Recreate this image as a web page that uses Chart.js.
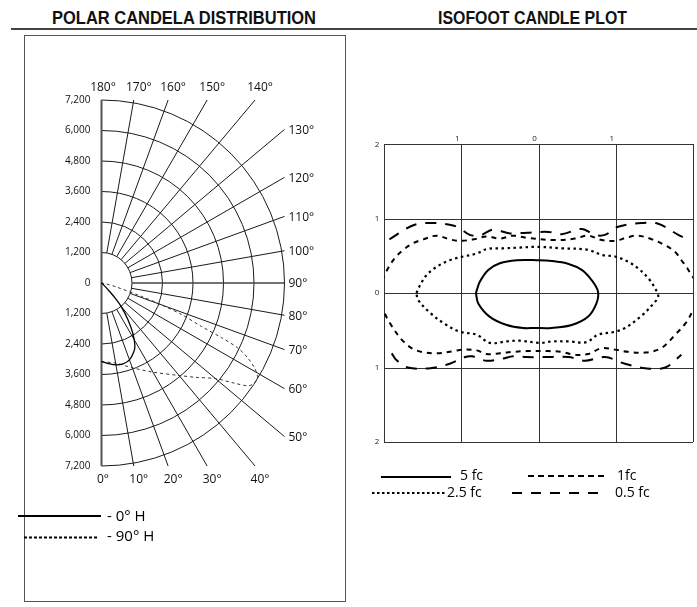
<!DOCTYPE html>
<html>
<head>
<meta charset="utf-8">
<script src="https://cdn.jsdelivr.net/npm/chart.js@4.4.0/dist/chart.umd.min.js"></script>
<style>
  body { margin: 0; background: #fff; width: 697px; height: 607px; overflow: hidden; position: relative; }
  .title { position: absolute; top: 8px; font: bold 19px/19px "Liberation Sans", Arial, sans-serif; white-space: nowrap; color: #111; transform-origin: left top; }
  #rule { position: absolute; left: 11px; width: 686px; top: 28px; height: 2px; background: #444; }
  #polar { position: absolute; left: 0; top: 30px; }
  #iso { position: absolute; left: 350px; top: 120px; }
</style>
</head>
<body>
<div class="title" id="t1" data-center="184" data-width="264">POLAR CANDELA DISTRIBUTION</div>
<div class="title" id="t2" data-center="532" data-width="189">ISOFOOT CANDLE PLOT</div>
<div id="rule"></div>
<canvas id="polar" width="350" height="577"></canvas>
<canvas id="iso" width="347" height="400"></canvas>
<script>
// polar candela distribution
const ringValues = [1200, 2400, 3600, 4800, 6000, 7200];
const candelaTicks = [7200, 6000, 4800, 3600, 2400, 1200, 0, 1200, 2400, 3600, 4800, 6000, 7200];
const angleTicks = [0, 10, 20, 30, 40, 50, 60, 70, 80, 90, 100, 110, 120, 130, 140, 150, 160, 170, 180];

const angles0H = [0, 5, 10, 15, 20, 25, 28, 32, 36, 40, 42, 44, 46, 50];
const candela0H = [3080, 3180, 3270, 3290, 3220, 3000, 2800, 2320, 1750, 1200, 850, 450, 150, 0];

const angles90H = [0, 10, 20, 30, 40, 45, 50, 53, 55, 57, 59, 61, 63, 64.5, 65.5, 66.5, 68.5, 70, 71.5, 75, 80, 90];
const candela90H = [3100, 3200, 3550, 4050, 4750, 5250, 5850, 6550, 7050, 7200, 7160, 6880, 6430, 5950, 5200, 4300, 3400, 2500, 1650, 600, 150, 0];

// isofoot candle plot
const gridTicks = [-2, -1, 0, 1, 2];

const fc5U = [-0.81, -0.76, -0.65, -0.50, -0.28, -0.02, 0.17, 0.39, 0.56, 0.69, 0.77, 0.75, 0.64, 0.43, 0.17, -0.05, -0.20, -0.41, -0.63, -0.78, -0.81];
const fc5V = [0.00, 0.15, 0.31, 0.40, 0.44, 0.44, 0.43, 0.39, 0.31, 0.17, 0.02, -0.14, -0.32, -0.43, -0.47, -0.47, -0.47, -0.43, -0.32, -0.14, 0.00];

const fc25U = [-1.58, -1.53, -1.45, -1.32, -1.15, -0.97, -0.80, -0.67, -0.46, -0.24, -0.02, 0.30, 0.64, 0.82, 0.99, 1.16, 1.29, 1.42, 1.51, 1.55, 1.49, 1.34, 1.12, 0.99, 0.77, 0.62, 0.39, 0.17, 0.02, -0.24, -0.41, -0.63, -0.80, -1.02, -1.19, -1.40, -1.56, -1.58];
const fc25V = [0.00, 0.11, 0.24, 0.35, 0.44, 0.49, 0.53, 0.59, 0.60, 0.61, 0.62, 0.60, 0.58, 0.51, 0.49, 0.42, 0.33, 0.20, 0.06, -0.05, -0.14, -0.30, -0.47, -0.52, -0.56, -0.66, -0.65, -0.65, -0.67, -0.64, -0.65, -0.67, -0.56, -0.52, -0.43, -0.27, -0.09, 0.00];

const fc1U = [-2.08, -1.97, -1.86, -1.75, -1.62, -1.49, -1.32, -1.15, -1.02, -0.84, -0.67, -0.50, -0.33, -0.15, 0.21, 0.47, 0.64, 0.82, 0.99, 1.16, 1.29, 1.47, 1.64, 1.77, 1.85, 1.94, 2.08, 1.98, 1.90, 1.77, 1.59, 1.38, 1.16, 0.99, 0.82, 0.64, 0.47, 0.30, 0.13, -0.15, -0.33, -0.50, -0.67, -0.80, -0.97, -1.10, -1.32, -1.58, -1.75, -1.92, -1.99, -2.08];
const fc1V = [0.05, 0.29, 0.47, 0.58, 0.67, 0.72, 0.77, 0.72, 0.70, 0.72, 0.76, 0.73, 0.77, 0.74, 0.71, 0.73, 0.77, 0.71, 0.70, 0.75, 0.77, 0.72, 0.64, 0.55, 0.44, 0.31, 0.02, -0.27, -0.41, -0.56, -0.74, -0.80, -0.79, -0.76, -0.74, -0.82, -0.83, -0.79, -0.78, -0.78, -0.79, -0.81, -0.82, -0.77, -0.76, -0.78, -0.81, -0.77, -0.65, -0.41, -0.27, 0.05];

const fc05TopU = [-1.93, -1.62, -1.36, -1.12, -1.02, -0.89, -0.76, -0.59, -0.37, -0.15, 0.13, 0.30, 0.56, 0.73, 0.86, 1.03, 1.34, 1.55, 1.81, 1.87];
const fc05TopV = [0.72, 0.91, 0.94, 0.91, 0.87, 0.78, 0.77, 0.85, 0.80, 0.81, 0.82, 0.79, 0.86, 0.78, 0.78, 0.89, 0.94, 0.93, 0.78, 0.75];
const fc05BotU = [-1.90, -1.84, -1.69, -1.40, -1.15, -0.95, -0.86, -0.67, -0.46, -0.33, -0.15, 0.08, 0.39, 0.60, 0.86, 1.12, 1.38, 1.64, 1.85];
const fc05BotV = [-0.81, -0.90, -1.00, -1.01, -0.95, -0.86, -0.85, -0.91, -0.88, -0.85, -0.86, -0.86, -0.86, -0.91, -0.86, -0.95, -1.01, -1.00, -0.83];

// fit the condensed titles to their width
document.querySelectorAll('.title').forEach(el => {
  const w = el.getBoundingClientRect().width;
  const target = +el.dataset.width;
  el.style.transform = 'scaleX(' + (target / w) + ')';
  el.style.left = (+el.dataset.center - target / 2) + 'px';
});

const LABEL_FONT = '"Open Sans", "Noto Sans", sans-serif';

function toXY(angles, values) {
  return angles.map((a, i) => {
    const t = a * Math.PI / 180;
    return { x: values[i] * Math.sin(t), y: -values[i] * Math.cos(t) };
  });
}

function pairs(us, vs) {
  return us.map((u, i) => ({ x: u, y: vs[i] }));
}

function legendLine(ctx, x1, x2, y, width, dash) {
  ctx.save();
  ctx.strokeStyle = '#000';
  ctx.lineWidth = width;
  ctx.setLineDash(dash);
  ctx.beginPath();
  ctx.moveTo(x1, y);
  ctx.lineTo(x2, y);
  ctx.stroke();
  ctx.restore();
}

const polarGrid = {
  id: 'polarGrid',
  beforeDatasetsDraw(chart) {
    const { ctx, scales: { x, y } } = chart;
    const cx = x.getPixelForValue(0), cy = y.getPixelForValue(0);
    const rad = v => x.getPixelForValue(v) - cx;
    const R = rad(ringValues[ringValues.length - 1]);
    const r0 = rad(ringValues[0]);
    ctx.save();

    // frame around the polar panel
    ctx.strokeStyle = '#555';
    ctx.lineWidth = 1;
    ctx.strokeRect(24.5, 5.5, 321, 566);

    ctx.strokeStyle = '#1a1a1a';
    ctx.lineWidth = 1;
    ringValues.forEach(v => {
      ctx.beginPath();
      ctx.arc(cx, cy, rad(v), -Math.PI / 2, Math.PI / 2);
      ctx.stroke();
    });

    ctx.font = '12px ' + LABEL_FONT;
    ctx.fillStyle = '#111';
    angleTicks.forEach(a => {
      const t = a * Math.PI / 180, dx = Math.sin(t), dy = Math.cos(t);
      let len = Infinity;
      if (dx > 1e-6) len = Math.min(len, R / dx);
      if (Math.abs(dy) > 1e-6) len = Math.min(len, R / Math.abs(dy));
      const ex = cx + dx * len, ey = cy + dy * len;
      if (a !== 0 && a !== 180) {
        ctx.lineWidth = a === 90 ? 1.6 : 1;
        ctx.strokeStyle = a === 90 ? '#444' : '#1a1a1a';
        ctx.beginPath();
        ctx.moveTo(cx + dx * r0, cy + dy * r0);
        ctx.lineTo(ex, ey);
        ctx.stroke();
      }
      const off = (a === 0 || a === 180) ? 1.5 : 5;
      if (a >= 140) {
        ctx.textAlign = 'center'; ctx.textBaseline = 'middle';
        ctx.fillText(a + '°', ex + off, cy - R - 12);
      } else if (a >= 50) {
        ctx.textAlign = 'left'; ctx.textBaseline = 'middle';
        ctx.fillText(a + '°', cx + R + 4, ey + 1);
      } else {
        ctx.textAlign = 'center'; ctx.textBaseline = 'middle';
        ctx.fillText(a + '°', ex + off, cy + R + 14);
      }
    });

    // vertical axis
    ctx.strokeStyle = '#555';
    ctx.lineWidth = 2;
    ctx.beginPath();
    ctx.moveTo(cx, cy - R);
    ctx.lineTo(cx, cy + R);
    ctx.stroke();

    // candela values
    ctx.font = '10px ' + LABEL_FONT;
    ctx.textAlign = 'right';
    ctx.textBaseline = 'middle';
    candelaTicks.forEach((v, i) => {
      const sign = i < 6 ? -1 : 1;
      ctx.fillText(v.toLocaleString('en-US'), cx - 11, cy + sign * rad(v));
    });
    ctx.restore();
  },
  afterDraw(chart) {
    const ctx = chart.ctx;
    legendLine(ctx, 18, 101, 486, 2, []);
    legendLine(ctx, 24, 98, 507.5, 2, [3, 2]);
    ctx.save();
    ctx.font = '15px ' + LABEL_FONT;
    ctx.fillStyle = '#000';
    ctx.textAlign = 'left';
    ctx.textBaseline = 'middle';
    ctx.fillText('- 0° H', 107, 486.5);
    ctx.fillText('- 90° H', 107, 506.5);
    ctx.restore();
  }
};

new Chart(document.getElementById('polar'), {
  type: 'scatter',
  data: {
    datasets: [
      { label: '0° H', data: toXY(angles0H, candela0H), showLine: true, borderColor: '#000', borderWidth: 1.3, pointRadius: 0, tension: 0.3, clip: false },
      { label: '90° H', data: toXY(angles90H, candela90H), showLine: true, borderColor: '#333', borderWidth: 1, borderDash: [3, 3], pointRadius: 0, tension: 0.3, clip: false }
    ]
  },
  options: {
    responsive: false,
    animation: false,
    events: [],
    layout: { padding: { left: 101.5, right: 65.5, top: 70, bottom: 141 } },
    plugins: { legend: { display: false }, tooltip: { enabled: false } },
    scales: {
      x: { type: 'linear', min: 0, max: 7200, display: false },
      y: { type: 'linear', min: -7200, max: 7200, display: false }
    }
  },
  plugins: [polarGrid]
});

const isoGrid = {
  id: 'isoGrid',
  beforeDatasetsDraw(chart) {
    const { ctx, scales: { x, y }, chartArea: ca } = chart;
    ctx.save();
    ctx.strokeStyle = '#333';
    ctx.lineWidth = 1;
    gridTicks.forEach(v => {
      const px = Math.round(x.getPixelForValue(v)) + 0.5;
      ctx.beginPath(); ctx.moveTo(px, ca.top); ctx.lineTo(px, ca.bottom); ctx.stroke();
      const py = Math.round(y.getPixelForValue(v)) + 0.5;
      ctx.beginPath(); ctx.moveTo(ca.left, py); ctx.lineTo(ca.right, py); ctx.stroke();
    });
    ctx.font = '8px ' + LABEL_FONT;
    ctx.fillStyle = '#222';
    ctx.textBaseline = 'middle';
    ctx.textAlign = 'center';
    gridTicks.filter(v => Math.abs(v) < 2).forEach(v => {
      ctx.fillText(String(Math.abs(v)), x.getPixelForValue(v) - 4, ca.top - 5);
    });
    gridTicks.forEach(v => {
      ctx.fillText(String(Math.abs(v)), ca.left - 7, y.getPixelForValue(v) + (v === 2 ? 1 : 0));
    });
    ctx.restore();
  },
  afterDraw(chart) {
    const ctx = chart.ctx;
    // page coords minus canvas offset (350, 120)
    legendLine(ctx, 31, 101, 357, 2, []);
    legendLine(ctx, 178, 258, 356, 2, [6, 4]);
    legendLine(ctx, 22, 95, 373, 2, [2.5, 2.5]);
    legendLine(ctx, 162, 252, 373, 2, [10, 9]);
    ctx.save();
    ctx.font = '14px ' + LABEL_FONT;
    ctx.fillStyle = '#000';
    ctx.textAlign = 'left';
    ctx.textBaseline = 'middle';
    ctx.fillText('5 fc', 110, 356);
    ctx.fillText('1fc', 267, 356);
    ctx.fillText('2.5 fc', 97, 373);
    ctx.fillText('0.5 fc', 265, 373);
    ctx.restore();
  }
};

const isoLine = (label, data, width, dash) => ({
  label, data, showLine: true, borderColor: '#000', borderWidth: width, borderDash: dash,
  pointRadius: 0, tension: 0.35
});

new Chart(document.getElementById('iso'), {
  type: 'scatter',
  data: {
    datasets: [
      isoLine('5 fc', pairs(fc5U, fc5V), 2, []),
      isoLine('2.5 fc', pairs(fc25U, fc25V), 2.2, [2.5, 3.5]),
      isoLine('1fc', pairs(fc1U, fc1V), 2, [5, 5]),
      isoLine('0.5 fc', pairs(fc05TopU, fc05TopV), 2, [11, 9]),
      isoLine('0.5 fc', pairs(fc05BotU, fc05BotV), 2, [11, 9])
    ]
  },
  options: {
    responsive: false,
    animation: false,
    events: [],
    layout: { padding: { left: 34, right: 4, top: 24, bottom: 78 } },
    plugins: { legend: { display: false }, tooltip: { enabled: false } },
    scales: {
      x: { type: 'linear', min: -2, max: 2, display: false },
      y: { type: 'linear', min: -2, max: 2, display: false }
    }
  },
  plugins: [isoGrid]
});
</script>
</body>
</html>
